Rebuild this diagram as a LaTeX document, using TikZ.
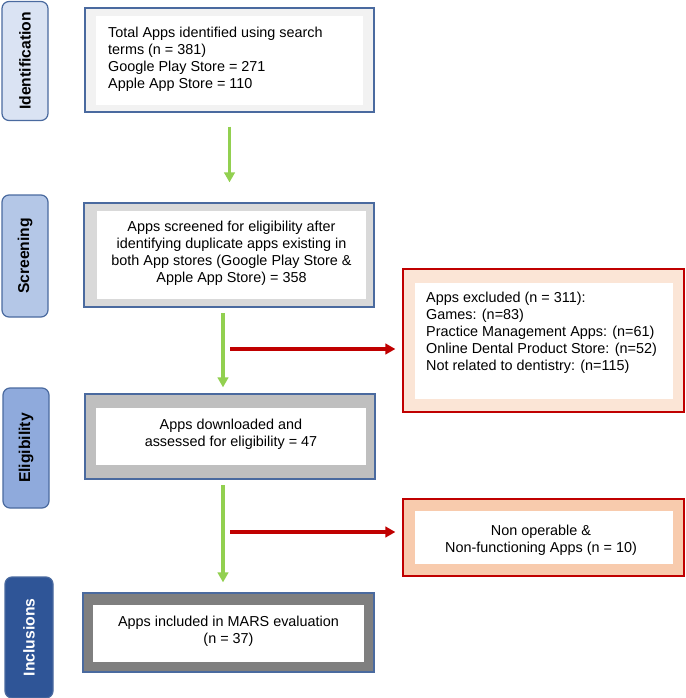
\documentclass[tikz,border=0pt]{standalone}
\usepackage{fontspec}
\setmainfont{Liberation Sans}
\usetikzlibrary{arrows.meta}
\definecolor{boxline}{HTML}{4A6A9F}
\definecolor{idfill}{HTML}{DAE3F3}
\definecolor{scfill}{HTML}{B4C7E7}
\definecolor{elfill}{HTML}{8FAADC}
\definecolor{infill}{HTML}{2F5597}
\definecolor{gOne}{HTML}{F2F2F2}
\definecolor{gTwo}{HTML}{D9D9D9}
\definecolor{gThree}{HTML}{BFBFBF}
\definecolor{gFour}{HTML}{7F7F7F}
\definecolor{pinkA}{HTML}{FBE5D6}
\definecolor{pinkB}{HTML}{F8CBAD}
\definecolor{arrred}{HTML}{C00000}
\definecolor{arrgreen}{HTML}{92D050}
\begin{document}
\begin{tikzpicture}[x=1pt,y=-1pt,
  outer/.style={draw=boxline, line width=1.2pt, inner sep=0pt},
  redouter/.style={draw=arrred, line width=1.2pt, inner sep=0pt},
  innerbox/.style={fill=white, inner sep=0pt},
  txt/.style={font=\fontsize{14.4}{17}\selectfont, inner sep=0pt},
  lab/.style={draw=boxline, line width=1.2pt, rounded corners=7pt, rotate=90, minimum height=46pt, inner sep=0pt, font=\bfseries\fontsize{15.7}{18}\selectfont},
  garrow/.style={draw=arrgreen, line width=3.5pt, -{Triangle[width=10.5pt,length=10pt]}},
  rarrow/.style={draw=arrred, line width=3.5pt, -{Triangle[width=10.5pt,length=10pt]}},
]
\useasboundingbox (0,0) rectangle (685,698);

% stage labels
\node[lab, fill=idfill, minimum width=119pt] (l1) at (25,61) {Identification};
\node[lab, fill=scfill, minimum width=122pt] (l2) at (25,256) {Screening};
\node[lab, fill=elfill, minimum width=120pt] (l3) at (26,448) {Eligibility};
\node[lab, fill=infill, minimum width=121pt, minimum height=48pt, text=white] (l4) at (29,637.5) {Inclusions};

% box 1
\node[outer, fill=gOne, minimum width=289pt, minimum height=104pt] (b1o) at (229.5,60) {};
\node[innerbox, minimum width=267pt, minimum height=89pt] (b1) at (229.5,60.5) {};
\node[txt, anchor=north west, align=left] (b1t) at (108,26.5) {Total Apps identified using search\\terms (n = 381)\\Google Play Store = 271\\Apple App Store = 110};

% box 2
\node[outer, fill=gTwo, minimum width=290pt, minimum height=104pt] (b2o) at (229,255) {};
\node[innerbox, minimum width=269pt, minimum height=88pt] (b2) at (231.5,255) {};
\node[txt, align=center] (b2t) at (231.5,253) {Apps screened for eligibility after\\identifying duplicate apps existing in\\both App stores (Google Play Store \&\\Apple App Store) = 358};

% box 3
\node[outer, fill=gThree, minimum width=290pt, minimum height=85pt] (b3o) at (230,436.5) {};
\node[innerbox, minimum width=270pt, minimum height=57pt] (b3) at (231,436.5) {};
\node[txt, align=center] (b3t) at (231,434) {Apps downloaded and\\assessed for eligibility = 47};

% box 4
\node[outer, fill=gFour, minimum width=291pt, minimum height=79pt] (b4o) at (228.5,632.5) {};
\node[innerbox, minimum width=271pt, minimum height=57pt] (b4) at (228.5,633.5) {};
\node[txt, align=center] (b4t) at (228.5,631.5) {Apps included in MARS evaluation\\(n = 37)};

% excluded box 1
\node[redouter, fill=pinkA, minimum width=281pt, minimum height=143pt] (e1o) at (543.5,340.5) {};
\node[innerbox, minimum width=258pt, minimum height=116pt] (e1) at (544,341) {};
\node[txt, anchor=north west, align=left] (e1t) at (426,291.5) {Apps excluded (n = 311):\\Games: (n=83)\\Practice Management Apps: (n=61)\\Online Dental Product Store: (n=52)\\Not related to dentistry: (n=115)};

% excluded box 2
\node[redouter, fill=pinkB, minimum width=281pt, minimum height=77pt] (e2o) at (543.5,537.5) {};
\node[innerbox, minimum width=258pt, minimum height=53pt] (e2) at (544,537.5) {};
\node[txt, align=center] (e2t) at (541,540) {Non operable \&\\Non-functioning Apps (n = 10)};

% green arrows
\draw[garrow, shorten <=14pt, shorten >=20pt] (b1o.south) -- (b1o.south |- b2o.north);
\coordinate (g2s) at (223,307);
\coordinate (g3s) at (223,479);
\draw[garrow, shorten <=6pt, shorten >=6pt] (g2s) -- (g2s |- b3o.north);
\draw[garrow, shorten <=6pt, shorten >=10pt] (g3s) -- (g3s |- b4o.north);

% red arrows
\coordinate (r1) at (230,349);
\coordinate (r2) at (230,532);
\draw[rarrow, shorten >=7pt] (r1) -- (r1 -| e1o.west);
\draw[rarrow, shorten >=7pt] (r2) -- (r2 -| e2o.west);
\end{tikzpicture}
\end{document}
